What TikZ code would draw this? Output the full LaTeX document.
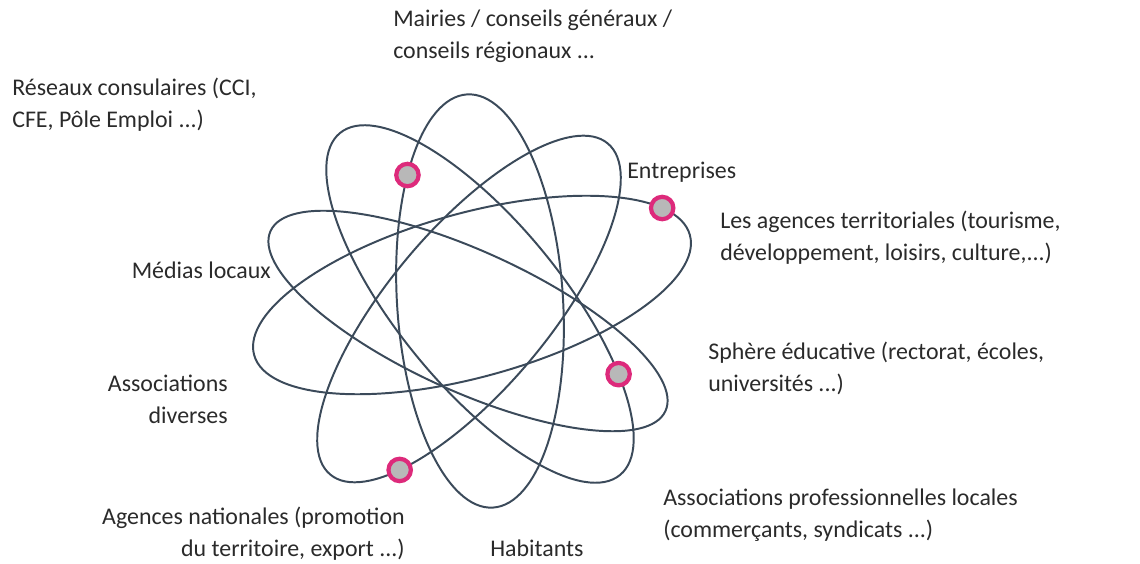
\documentclass[tikz,border=0pt]{standalone}
\usepackage{fontspec}
\setmainfont{Carlito}
\usepackage{xcolor}
\usepackage{tikz}
\usetikzlibrary{calc}

\definecolor{orbite}{HTML}{3B4A5A}
\definecolor{anneau}{HTML}{DD2A7B}
\definecolor{noyau}{HTML}{B8B8B8}
\definecolor{texte}{HTML}{2A2A2A}

\begin{document}
\begin{tikzpicture}[
  x=0.025cm, y=0.025cm,
  every node/.style={font=\fontsize{17}{22.8}\selectfont, text=texte, inner sep=0pt},
  lbl/.style={align=left, anchor=west},
  lblr/.style={align=right, anchor=east},
  orbit/.style={draw=orbite, line width=1.4pt},
  dot/.style={circle, draw=anneau, fill=noyau, line width=3pt, minimum size=0.56cm}
]
\useasboundingbox (0,0) rectangle (1140,564);

\begin{scope}[shift={(480,263)}, rotate=93.6]
  \draw[orbit] (0,0) ellipse [x radius=207, y radius=83];
  \node[dot] (dmairies) at (51:207 and 83) {};
\end{scope}
\begin{scope}[shift={(469,255)}, rotate=50]
  \draw[orbit] (0,0) ellipse [x radius=216, y radius=80];
  \node[dot] (dnationales) at (219:216 and 80) {};
\end{scope}
\begin{scope}[shift={(480,260)}, rotate=129.3]
  \draw[orbit] (0,0) ellipse [x radius=221, y radius=82];
  \node[dot] (deducative) at (230:221 and 82) {};
\end{scope}
\begin{scope}[shift={(472,269)}, rotate=15.4]
  \draw[orbit] (0,0) ellipse [x radius=226, y radius=82];
  \node[dot] (dagences) at (24:226 and 82) {};
\end{scope}
\begin{scope}[shift={(468,243)}, rotate=155.5]
  \draw[orbit] (0,0) ellipse [x radius=217, y radius=70];
\end{scope}

\node[lbl] (mairies) at (393,528) {Mairies / conseils généraux /\\conseils régionaux ...};
\node[lbl] (reseaux) at (12,459) {Réseaux consulaires (CCI,\\CFE, Pôle Emploi ...)};
\node[lbl] (entreprises) at (627,392) {Entreprises};
\node[lbl] (agences) at (720,326) {Les agences territoriales (tourisme,\\développement, loisirs, culture,...)};
\node[lblr] (medias) at (271,294) {Médias locaux};
\node[lbl] (educative) at (708,196) {Sphère éducative (rectorat, écoles,\\universités ...)};
\node[lblr] (associations) at (228,165) {Associations\\diverses};
\node[lbl] (professionnelles) at (663,49) {Associations professionnelles locales\\(commerçants, syndicats ...)};
\node[lblr] (nationales) at (405,30) {Agences nationales (promotion\\du territoire, export ...)};
\node[lbl] (habitants) at (490,16) {Habitants};
\end{tikzpicture}
\end{document}
